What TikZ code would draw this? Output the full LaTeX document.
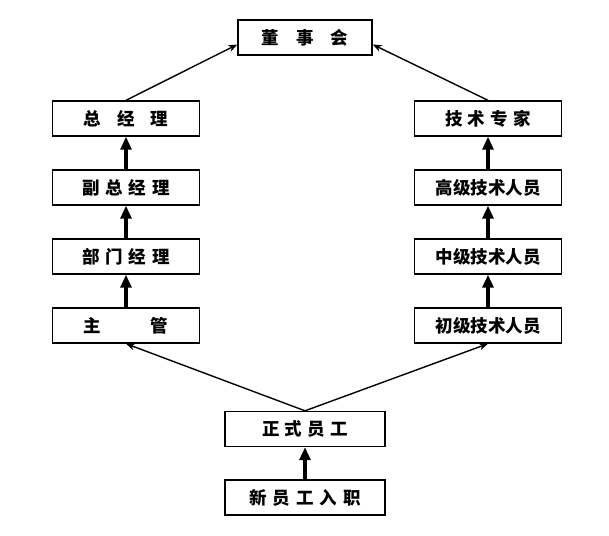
\documentclass[tikz,border=0pt]{standalone}
\usepackage{fontspec}
\usepackage{tikz}
\usetikzlibrary{arrows.meta}
\newfontfamily\hei{Noto Sans CJK SC}

\begin{document}
\begin{tikzpicture}[x=1pt,y=1pt,
    box/.style={draw,line width=1.4pt,minimum height=35pt,inner sep=0pt,font=\hei\bfseries\fontsize{17.5}{17.5}\selectfont},
    thin/.style={line width=1.4pt,-{Stealth[length=9pt,width=7pt]}},
    thick/.style={line width=3.2pt,-{Triangle[length=13pt,width=11pt]}}]
            \useasboundingbox (0,0) rectangle (609,-535);
            \node[box,minimum width=134pt] (dsh) at (305,-37.5) {董\hspace{17pt}事\hspace{17pt}会};
            \node[box,minimum width=147pt] (zjl) at (126,-118.5) {总\hspace{16pt}经\hspace{16pt}理};
            \node[box,minimum width=147pt] (fzjl) at (126,-187.5) {副\hspace{6pt}总\hspace{6pt}经\hspace{6pt}理};
            \node[box,minimum width=147pt] (bmjl) at (126,-256.5) {部\hspace{6pt}门\hspace{6pt}经\hspace{6pt}理};
            \node[box,minimum width=147pt] (zg) at (126,-325.5) {主\hspace{50pt}管};
            \node[box,minimum width=147pt] (jszj) at (488,-118.5) {技\hspace{5pt}术\hspace{5pt}专\hspace{5pt}家};
            \node[box,minimum width=147pt] (gj) at (488,-187.5) {高级技术人员};
            \node[box,minimum width=147pt] (zj) at (488,-256.5) {中级技术人员};
            \node[box,minimum width=147pt] (cj) at (488,-325.5) {初级技术人员};
            \node[box,minimum width=160pt] (zsyg) at (305,-429) {正\hspace{5pt}式\hspace{5pt}员\hspace{5pt}工};
            \node[box,minimum width=160pt] (xyg) at (305,-497.5) {新\hspace{6pt}员\hspace{6pt}工\hspace{6pt}入\hspace{6pt}职};
            % promotion steps
            \foreach \a/\b in {fzjl/zjl,bmjl/fzjl,zg/bmjl,gj/jszj,zj/gj,cj/zj,xyg/zsyg}
                \draw[thick] (\a) -- (\b);
            \draw[thin] (zsyg.north) -- (zg.south);
            \draw[thin] (zsyg.north) -- (cj.south);
            \draw[thin] (zjl.north) -- ([yshift=-7pt]dsh.west);
            \draw[thin] (jszj.north) -- ([yshift=-7pt]dsh.east);
        \end{tikzpicture}
\end{document}
